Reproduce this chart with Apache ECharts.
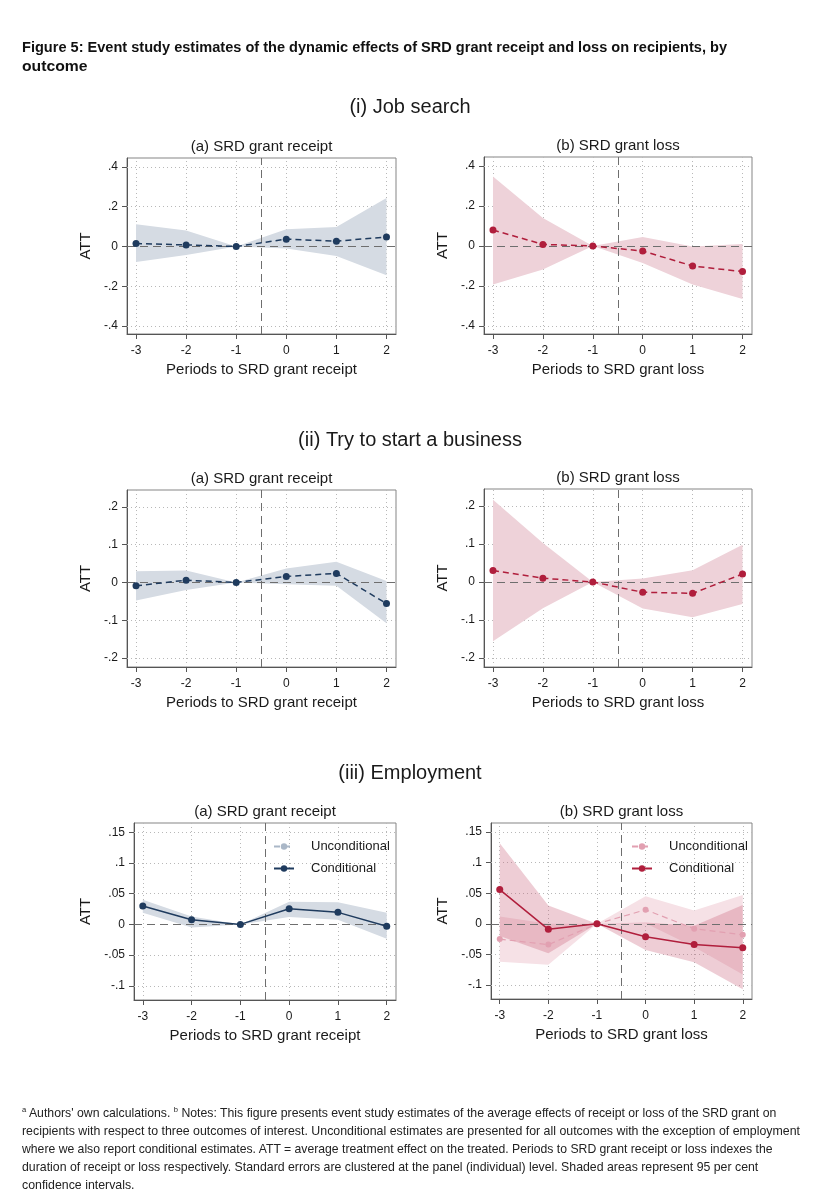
<!DOCTYPE html>
<html><head><meta charset="utf-8">
<script src="https://cdn.jsdelivr.net/npm/echarts@6/dist/echarts.min.js"></script>
<style>
html,body{margin:0;padding:0;background:#fff;}
#wrap{position:relative;width:821px;height:1200px;overflow:hidden;}
#c{position:absolute;left:0;top:0;width:821px;height:1200px;}
.ln{position:absolute;left:22px;white-space:nowrap;transform-origin:0 50%;color:#111;
    font-family:"Liberation Sans Narrow","Arial Narrow","Liberation Sans",Arial,sans-serif;}
.ttl{font-weight:bold;font-size:15px;line-height:18px;}
.fn{font-size:13px;line-height:16px;color:#222;}
.fn sup{font-size:8px;vertical-align:5px;line-height:0;}
</style></head>
<body><div id="wrap">
<div id="c"></div>
<div class="ln ttl" style="top:38px" data-w="705">Figure 5: Event study estimates of the dynamic effects of SRD grant receipt and loss on recipients, by</div>
<div class="ln ttl" style="top:57px" data-w="66">outcome</div>
<div class="ln fn" style="top:1105px" data-w="754"><sup>a</sup> Authors' own calculations. <sup>b</sup> Notes: This figure presents event study estimates of the average effects of receipt or loss of the SRD grant on</div>
<div class="ln fn" style="top:1123px" data-w="778">recipients with respect to three outcomes of interest. Unconditional estimates are presented for all outcomes with the exception of employment</div>
<div class="ln fn" style="top:1141px" data-w="751">where we also report conditional estimates. ATT = average treatment effect on the treated. Periods to SRD grant receipt or loss indexes the</div>
<div class="ln fn" style="top:1159px" data-w="736">duration of receipt or loss respectively. Standard errors are clustered at the panel (individual) level. Shaded areas represent 95 per cent</div>
<div class="ln fn" style="top:1177px" data-w="113">confidence intervals.</div>
</div>
<script>
// ---------- data ----------
const periods = [-3, -2, -1, 0, 1, 2];
const yTicksJob = [-0.4, -0.2, 0, 0.2, 0.4];
const yTicksBiz = [-0.2, -0.1, 0, 0.1, 0.2];
const yTicksEmp = [-0.1, -0.05, 0, 0.05, 0.1, 0.15];

// (i) Job search
const jobReceiptATT = [0.015, 0.008, 0, 0.037, 0.027, 0.048];
const jobReceiptLo  = [-0.078, -0.043, 0, -0.010, -0.048, -0.145];
const jobReceiptHi  = [0.112, 0.080, 0, 0.087, 0.098, 0.244];
const jobLossATT = [0.080, 0.008, 0, -0.025, -0.100, -0.128];
const jobLossLo  = [-0.193, -0.118, 0, -0.085, -0.193, -0.265];
const jobLossHi  = [0.348, 0.140, 0, 0.045, -0.002, 0.010];

// (ii) Try to start a business
const bizReceiptATT = [-0.009, 0.006, 0, 0.016, 0.024, -0.056];
const bizReceiptLo  = [-0.048, -0.020, 0, -0.005, -0.009, -0.108];
const bizReceiptHi  = [0.030, 0.032, 0, 0.037, 0.055, 0.004];
const bizLossATT = [0.030, 0.010, 0, -0.027, -0.030, 0.021];
const bizLossLo  = [-0.156, -0.069, 0, -0.070, -0.093, -0.058];
const bizLossHi  = [0.217, 0.103, 0, 0.009, 0.031, 0.098];

// (iii) Employment
const empReceiptCond   = [0.030, 0.0076, 0, 0.0256, 0.0196, -0.003];
const empReceiptCondLo = [0.019, -0.005, 0, 0.012, 0.0076, -0.0234];
const empReceiptCondHi = [0.040, 0.013, 0, 0.037, 0.036, 0.019];
const empReceiptUncond = [];
const empLossUncond   = [-0.025, -0.034, 0, 0.023, -0.008, -0.018];
const empLossUncondLo = [-0.062, -0.067, 0, 0.001, -0.038, -0.083];
const empLossUncondHi = [0.012, 0.000, 0, 0.045, 0.022, 0.047];
const empLossCond   = [0.056, -0.009, 0, -0.021, -0.034, -0.039];
const empLossCondLo = [-0.020, -0.048, 0, -0.043, -0.063, -0.107];
const empLossCondHi = [0.132, 0.030, 0, 0.002, -0.003, 0.031];

// ---------- style ----------
const FONT = '"Liberation Sans", Arial, Helvetica, sans-serif';
const BLUE = '#1f3b5e', BLUE_BAND = '#d5dbe3', BLUE_LIGHT = '#aab7c7';
const RED = '#b01e3c', RED_BAND = '#eed2d9', RED_LIGHT = '#e2a0b1';
const RED_BAND_U = '#f6e1e6', RED_BAND_C = 'rgba(200,90,115,0.30)';
const TXT = '#1a1a1a';

const panels = [
  {g:{left:127,top:158,width:269,height:176}, yr:[-0.44,0.445], yt:yTicksJob, xn:'Periods to SRD grant receipt', t:'(a) SRD grant receipt', ng:34},
  {g:{left:484,top:157,width:268,height:177}, yr:[-0.44,0.445], yt:yTicksJob, xn:'Periods to SRD grant loss', t:'(b) SRD grant loss', ng:34},
  {g:{left:127,top:490,width:269,height:177}, yr:[-0.224,0.245], yt:yTicksBiz, xn:'Periods to SRD grant receipt', t:'(a) SRD grant receipt', ng:34},
  {g:{left:484,top:489,width:268,height:178}, yr:[-0.224,0.245], yt:yTicksBiz, xn:'Periods to SRD grant loss', t:'(b) SRD grant loss', ng:34},
  {g:{left:134,top:823,width:262,height:177}, yr:[-0.123,0.165], yt:yTicksEmp, xn:'Periods to SRD grant receipt', t:'(a) SRD grant receipt', ng:41},
  {g:{left:491,top:823,width:261,height:176}, yr:[-0.123,0.165], yt:yTicksEmp, xn:'Periods to SRD grant loss', t:'(b) SRD grant loss', ng:41}
];

const fmtY = v => (Math.abs(v) < 1e-9 ? '0' : String(+v.toFixed(3)).replace('0.', '.'));

const grid = [], xAxis = [], yAxis = [], series = [], graphic = [];

panels.forEach((p, i) => {
  grid.push(Object.assign({show:true, borderColor:'#858585', borderWidth:1, backgroundColor:'#fff'}, p.g));
  xAxis.push({
    gridIndex:i, type:'value', min:-3.18, max:2.19,
    axisLine:{show:true, onZero:false, lineStyle:{color:'#555', width:1}},
    axisTick:{show:true, customValues:periods, length:5, lineStyle:{color:'#555'}},
    axisLabel:{customValues:periods, fontSize:12, color:TXT, fontFamily:FONT, margin:11},
    splitLine:{show:false},
    name:p.xn, nameLocation:'middle', nameGap:28,
    nameTextStyle:{fontSize:15, color:TXT, fontFamily:FONT}
  });
  yAxis.push({
    gridIndex:i, type:'value', min:p.yr[0], max:p.yr[1],
    axisLine:{show:true, onZero:false, lineStyle:{color:'#555', width:1}},
    axisTick:{show:true, customValues:p.yt, length:5, lineStyle:{color:'#555'}},
    axisLabel:{customValues:p.yt, formatter:fmtY, fontSize:12, color:TXT, fontFamily:FONT, margin:9},
    splitLine:{show:false},
    name:'ATT', nameLocation:'middle', nameGap:p.ng, nameRotate:90,
    nameTextStyle:{fontSize:15, color:TXT, fontFamily:FONT}
  });
  // grid lines
  series.push({
    type:'line', xAxisIndex:i, yAxisIndex:i, data:[], z:1, silent:true,
    markLine:{silent:true, symbol:'none', z:1, animation:false, label:{show:false},
      lineStyle:{type:[1,3], color:'#b8b8b8', width:1},
      data: periods.map(x => ({xAxis:x})).concat(p.yt.filter(y => y !== 0).map(y => ({yAxis:y})))}
  });
  // reference lines
  series.push({
    type:'line', xAxisIndex:i, yAxisIndex:i, data:[], z:3, silent:true,
    markLine:{silent:true, symbol:'none', z:3, animation:false, label:{show:false},
      lineStyle:{type:[8,5], color:'#6e6e6e', width:1},
      data:[{yAxis:0}, {xAxis:-0.5}]}
  });
  graphic.push({type:'text', x:p.g.left + p.g.width/2, y:p.g.top - 11,
    style:{text:p.t, fill:TXT, font:'15px ' + FONT, align:'center', verticalAlign:'middle'}});
});

function band(gi, lo, hi, color, z) {
  return {
    type:'custom', xAxisIndex:gi, yAxisIndex:gi, z:z || 2, silent:true,
    data: periods.map((x, k) => [x, lo[k], hi[k]]),
    encode:{x:0, y:[1, 2]},
    renderItem: function (params, api) {
      if (params.dataIndex !== 0) return null;
      const pts = [];
      for (let k = 0; k < periods.length; k++) pts.push(api.coord([periods[k], hi[k]]));
      for (let k = periods.length - 1; k >= 0; k--) pts.push(api.coord([periods[k], lo[k]]));
      return {type:'polygon', shape:{points:pts}, style:{fill:color}};
    }
  };
}
function est(gi, name, vals, color, dashed, opts) {
  return Object.assign({
    type:'line', name:name, xAxisIndex:gi, yAxisIndex:gi, z:5,
    data: vals.map((v, k) => [periods[k], v]),
    symbol:'circle', symbolSize:7, showSymbol:true,
    lineStyle:{color:color, width:1.5, type: dashed ? [6,4] : 'solid'},
    itemStyle:{color:color}
  }, opts || {});
}

series.push(band(0, jobReceiptLo, jobReceiptHi, BLUE_BAND));
series.push(est(0, 'jr', jobReceiptATT, BLUE, true));
series.push(band(1, jobLossLo, jobLossHi, RED_BAND));
series.push(est(1, 'jl', jobLossATT, RED, true));
series.push(band(2, bizReceiptLo, bizReceiptHi, BLUE_BAND));
series.push(est(2, 'br', bizReceiptATT, BLUE, true));
series.push(band(3, bizLossLo, bizLossHi, RED_BAND));
series.push(est(3, 'bl', bizLossATT, RED, true));
series.push(band(4, empReceiptCondLo, empReceiptCondHi, BLUE_BAND));
series.push(est(4, 'Unconditional', empReceiptUncond, BLUE_LIGHT, true, {symbolSize:6, lineStyle:{color:BLUE_LIGHT, width:1.2, type:[6,4]}}));
series.push(est(4, 'Conditional', empReceiptCond, BLUE, false));
series.push(band(5, empLossUncondLo, empLossUncondHi, RED_BAND_U, 2));
series.push(band(5, empLossCondLo, empLossCondHi, RED_BAND_C, 2));
series.push(est(5, 'Unconditional (b)', empLossUncond, RED_LIGHT, true, {symbolSize:6, lineStyle:{color:RED_LIGHT, width:1.2, type:[6,4]}}));
series.push(est(5, 'Conditional (b)', empLossCond, RED, false));

// section titles
[['(i) Job search', 107], ['(ii) Try to start a business', 440], ['(iii) Employment', 773]].forEach(s => {
  graphic.push({type:'text', x:410, y:s[1],
    style:{text:s[0], fill:TXT, font:'20px ' + FONT, align:'center', verticalAlign:'middle'}});
});

const legendBase = {orient:'vertical', itemWidth:20, itemHeight:8, itemGap:9,
  textStyle:{fontSize:13, color:TXT, fontFamily:FONT, padding:[0,0,0,12]}, selectedMode:false};

const chart = echarts.init(document.getElementById('c'));
chart.setOption({
  animation:false,
  backgroundColor:'#fff',
  grid, xAxis, yAxis, series, graphic,
  legend:[
    Object.assign({left:268, top:835, data:['Unconditional', 'Conditional']}, legendBase),
    Object.assign({left:626, top:835, data:['Unconditional (b)', 'Conditional (b)'],
      formatter: n => n.replace(' (b)', '')}, legendBase)
  ]
});

// fit HTML text lines to their measured widths in the reference
document.querySelectorAll('.ln').forEach(el => {
  const w = +el.dataset.w;
  const a = el.scrollWidth;
  if (w && a) el.style.transform = 'scaleX(' + (w / a).toFixed(4) + ')';
});
</script>
</body></html>
